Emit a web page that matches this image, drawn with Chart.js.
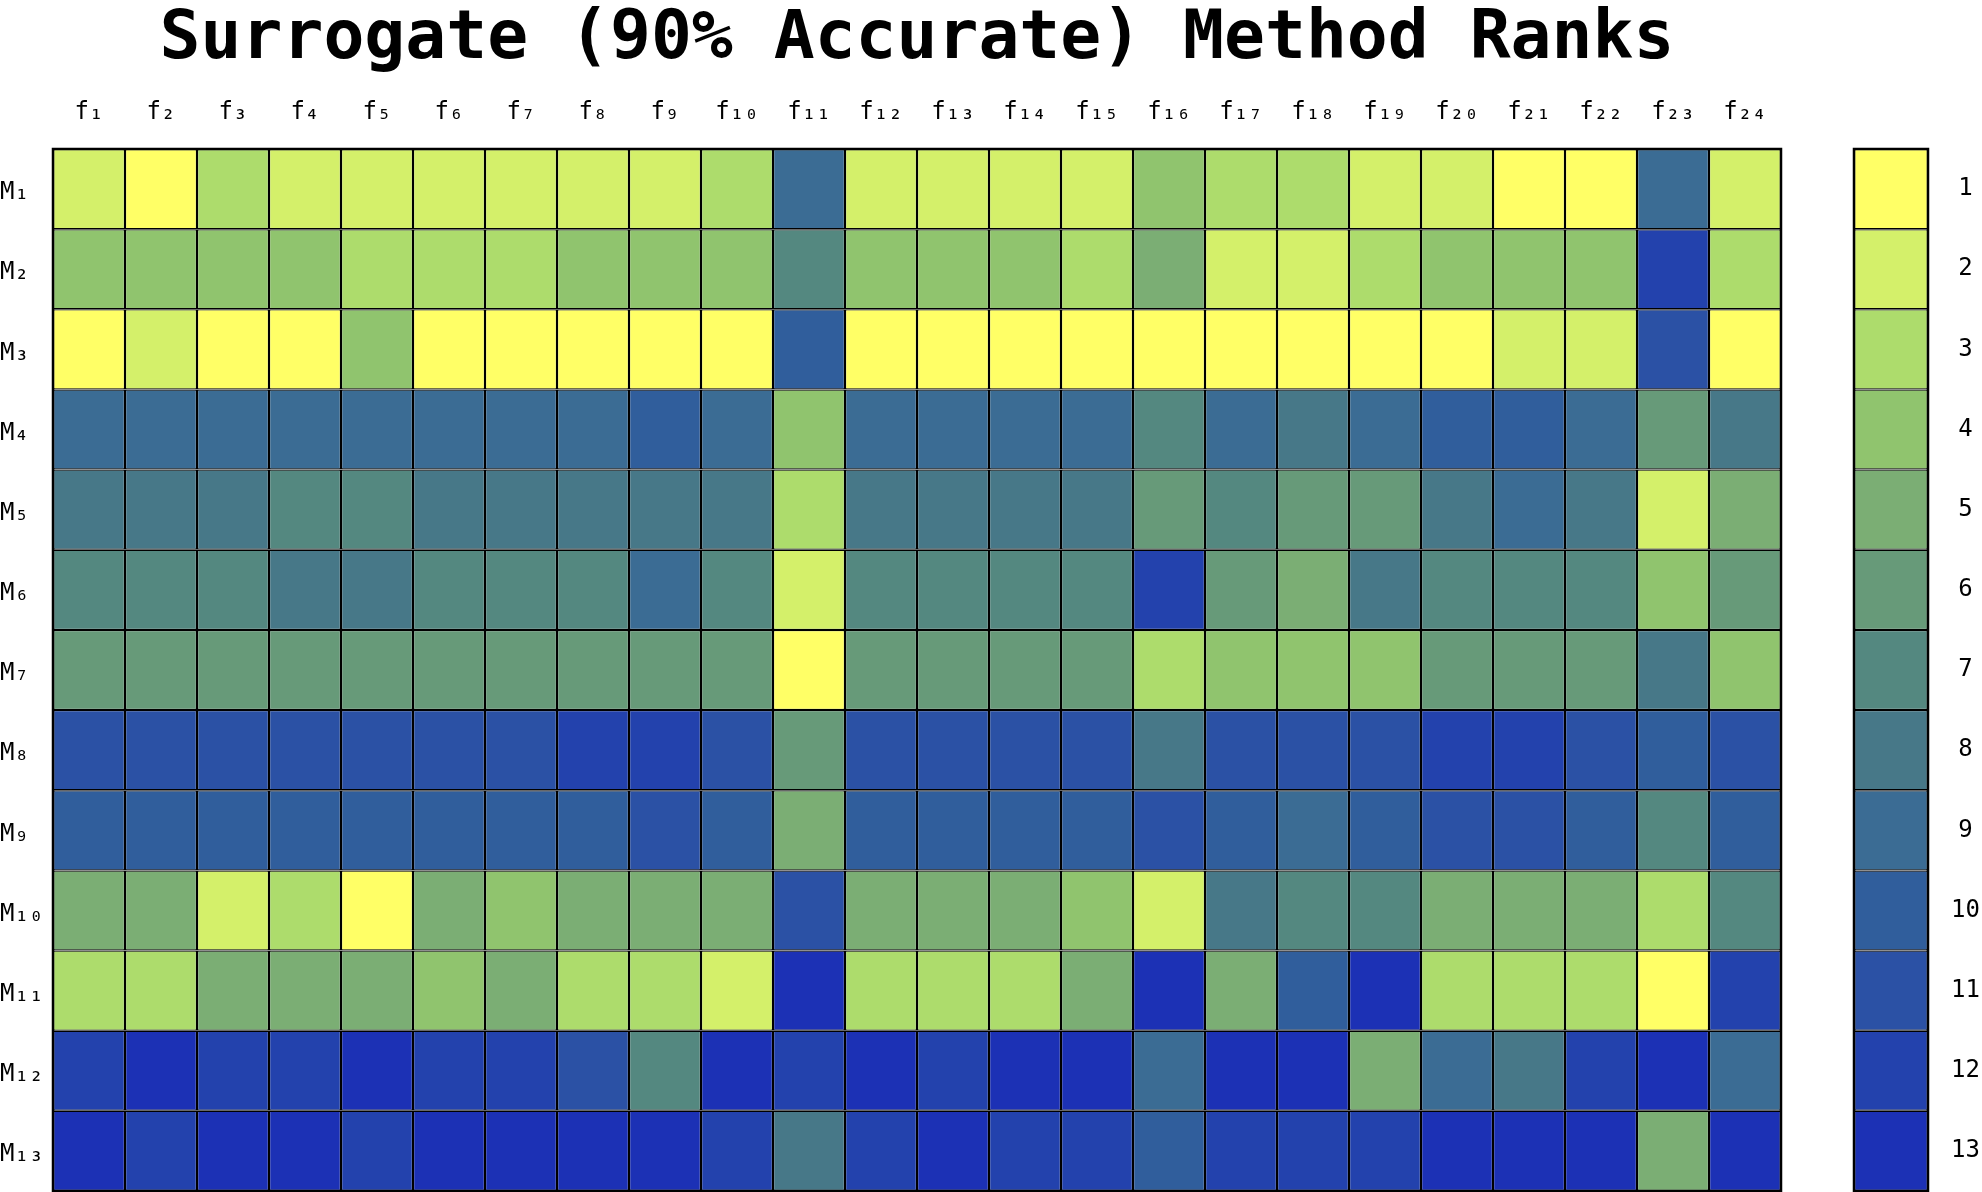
<!DOCTYPE html>
<html>
<head>
<meta charset="utf-8">
<title>Surrogate (90% Accurate) Method Ranks</title>
<script src="https://cdn.jsdelivr.net/npm/chart.js@4.4.1/dist/chart.umd.min.js"></script>
<style>
  body { margin: 0; background: #fff; }
  #wrap { position: relative; width: 1982px; height: 1192px; }
  #heat { position: absolute; left: 0; top: 0; }
  #bar { position: absolute; left: 1834px; top: 0; }
</style>
</head>
<body>
<div id="wrap">
  <canvas id="heat" width="1834" height="1192"></canvas>
  <canvas id="bar" width="148" height="1192"></canvas>
</div>
<script>
// column / row labels
const functionLabels = ["f₁","f₂","f₃","f₄","f₅","f₆","f₇","f₈","f₉","f₁₀","f₁₁","f₁₂",
  "f₁₃","f₁₄","f₁₅","f₁₆","f₁₇","f₁₈","f₁₉","f₂₀","f₂₁","f₂₂","f₂₃","f₂₄"];
const methodLabels = ["M₁","M₂","M₃","M₄","M₅","M₆","M₇","M₈","M₉","M₁₀","M₁₁","M₁₂","M₁₃"];

// rank of each method on f1..f24
const rankM1  = [2,1,3,2,2,2,2,2,2,3,9,2,2,2,2,4,3,3,2,2,1,1,9,2];
const rankM2  = [4,4,4,4,3,3,3,4,4,4,7,4,4,4,3,5,2,2,3,4,4,4,12,3];
const rankM3  = [1,2,1,1,4,1,1,1,1,1,10,1,1,1,1,1,1,1,1,1,2,2,11,1];
const rankM4  = [9,9,9,9,9,9,9,9,10,9,4,9,9,9,9,7,9,8,9,10,10,9,6,8];
const rankM5  = [8,8,8,7,7,8,8,8,8,8,3,8,8,8,8,6,7,6,6,8,9,8,2,5];
const rankM6  = [7,7,7,8,8,7,7,7,9,7,2,7,7,7,7,12,6,5,8,7,7,7,4,6];
const rankM7  = [6,6,6,6,6,6,6,6,6,6,1,6,6,6,6,3,4,4,4,6,6,6,8,4];
const rankM8  = [11,11,11,11,11,11,11,12,12,11,6,11,11,11,11,8,11,11,11,12,12,11,10,11];
const rankM9  = [10,10,10,10,10,10,10,10,11,10,5,10,10,10,10,11,10,9,10,11,11,10,7,10];
const rankM10 = [5,5,2,3,1,5,4,5,5,5,11,5,5,5,4,2,8,7,7,5,5,5,3,7];
const rankM11 = [3,3,5,5,5,4,5,3,3,2,13,3,3,3,5,13,5,10,13,3,3,3,1,12];
const rankM12 = [12,13,12,12,13,12,12,11,7,13,12,13,12,13,13,9,13,13,5,9,8,12,13,9];
const rankM13 = [13,12,13,13,12,13,13,13,13,12,8,12,13,12,12,10,12,12,12,13,13,13,5,13];

const ranks = [rankM1, rankM2, rankM3, rankM4, rankM5, rankM6, rankM7,
  rankM8, rankM9, rankM10, rankM11, rankM12, rankM13];

// colour bar
const rankLevels = ["1","2","3","4","5","6","7","8","9","10","11","12","13"];
const rankColors = ["#ffff66","#d4f06a","#addc6c","#90c46e","#7bae74","#679a79","#548880",
  "#477888","#3b6c94","#305e9c","#2b51a5","#2342ad","#1c31b5"];

Chart.defaults.font.family = "DejaVu Sans Mono";
Chart.defaults.color = "#000";

const framePlugin = {
  id: "frame",
  afterDatasetsDraw(chart) {
    const { ctx, chartArea: a } = chart;
    ctx.save();
    ctx.strokeStyle = "#000";
    ctx.lineWidth = 2.5;
    ctx.strokeRect(a.left, a.top, a.right - a.left, a.bottom - a.top);
    ctx.restore();
  }
};

function cellStyle() {
  return {
    borderColor: "#000",
    borderWidth: 1.25,
    borderSkipped: false,
    inflateAmount: 0,
    barPercentage: 1,
    categoryPercentage: 1
  };
}

// keep the y axis from reserving room for half a label at each end
function fixY(width) {
  return s => {
    s.width = width;
    s.paddingTop = 0;
    s.paddingBottom = 0;
  };
}

// heatmap: one stacked dataset per method, each cell one unit tall
new Chart(document.getElementById("heat"), {
  type: "bar",
  data: {
    labels: functionLabels,
    datasets: ranks.map((row, i) => Object.assign({
      label: methodLabels[i],
      data: row.map(() => 1),
      backgroundColor: row.map(r => rankColors[r - 1])
    }, cellStyle()))
  },
  options: {
    responsive: false,
    animation: false,
    layout: { padding: { left: 0, right: 53, top: 0, bottom: 1 } },
    plugins: {
      legend: { display: false },
      tooltip: { enabled: false },
      title: {
        display: true,
        fullSize: false,
        text: "Surrogate (90% Accurate) Method Ranks",
        color: "#000",
        font: { size: 68, weight: "bold", lineHeight: 1 },
        padding: { top: 6, bottom: 0 }
      }
    },
    scales: {
      x: {
        position: "top",
        stacked: true,
        grid: { display: false },
        border: { display: false },
        ticks: { font: { size: 24 }, padding: 14, autoSkip: false, maxRotation: 0 },
        afterFit: s => { s.height = 75; s.paddingLeft = 0; s.paddingRight = 0; }
      },
      y: {
        stacked: true,
        min: 0,
        max: 13,
        reverse: true,
        grid: { display: false },
        border: { display: false },
        // labels sit a touch below the row centre, as in the original
        afterBuildTicks: s => { s.ticks = methodLabels.map((_, i) => ({ value: i + 0.55 })); },
        ticks: {
          font: { size: 24 },
          crossAlign: "far",
          callback: v => methodLabels[Math.floor(v)]
        },
        afterFit: fixY(53)
      }
    }
  },
  plugins: [framePlugin]
});

// colour bar
new Chart(document.getElementById("bar"), {
  type: "bar",
  data: {
    labels: [""],
    datasets: rankLevels.map((lv, i) => Object.assign({
      label: lv,
      data: [1],
      backgroundColor: rankColors[i]
    }, cellStyle()))
  },
  options: {
    responsive: false,
    animation: false,
    layout: { padding: { left: 20, right: 0, top: 149, bottom: 1 } },
    plugins: { legend: { display: false }, tooltip: { enabled: false } },
    scales: {
      x: { stacked: true, display: false },
      y: {
        stacked: true,
        position: "right",
        min: 0,
        max: 13,
        reverse: true,
        grid: { display: false },
        border: { display: false },
        afterBuildTicks: s => { s.ticks = rankLevels.map((_, i) => ({ value: i + 0.5 })); },
        ticks: {
          font: { size: 24 },
          padding: 15,
          crossAlign: "center",
          callback: v => rankLevels[Math.floor(v)]
        },
        afterFit: fixY(54)
      }
    }
  },
  plugins: [framePlugin]
});
</script>
</body>
</html>
